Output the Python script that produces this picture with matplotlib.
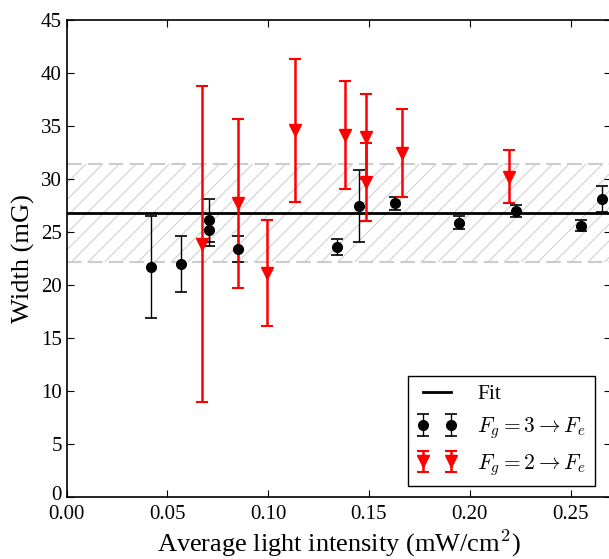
import numpy as np
import matplotlib
matplotlib.use('Agg')
import matplotlib.pyplot as plt
import matplotlib.transforms as mtransforms

# F_g = 3 -> F_e data (black)
x3 = [0.0418, 0.0565, 0.0706, 0.0706, 0.0848, 0.1342, 0.1451, 0.1628, 0.1947, 0.2229, 0.2550, 0.2657]
w3 = [21.7, 22.0, 26.1, 25.2, 23.4, 23.6, 27.5, 27.7, 25.9, 27.0, 25.6, 28.1]
e3 = [4.85, 2.65, 2.0, 1.5, 1.2, 0.75, 3.4, 0.6, 0.6, 0.55, 0.5, 1.25]

# F_g = 2 -> F_e data (red)
x2 = [0.0673, 0.0848, 0.0992, 0.1132, 0.1379, 0.1485, 0.1485, 0.1663, 0.2195]
w2 = [23.9, 27.7, 21.1, 34.6, 34.2, 34.0, 29.7, 32.5, 30.2]
e2 = [14.9, 7.95, 5.0, 6.75, 5.1, 4.0, 3.7, 4.15, 2.5]

fitValue = 26.8
bandLow = 22.2
bandHigh = 31.4

plt.rcParams['font.family'] = 'serif'
plt.rcParams['font.serif'] = ['Liberation Serif', 'DejaVu Serif']
plt.rcParams['mathtext.fontset'] = 'cm'
plt.rcParams['xtick.direction'] = 'in'
plt.rcParams['ytick.direction'] = 'in'
plt.rcParams['xtick.top'] = True
plt.rcParams['ytick.right'] = True
plt.rcParams['xtick.major.size'] = 5
plt.rcParams['ytick.major.size'] = 5
plt.rcParams['hatch.color'] = '0.82'
plt.rcParams['hatch.linewidth'] = 0.8

fig = plt.figure(figsize=(6.09, 5.59), dpi=100)
ax = fig.add_axes([0.1095, 0.111, 0.8935, 0.853])

xlim = (0, 0.27)
ax.fill_between(xlim, bandLow, bandHigh, facecolor='none', edgecolor='0.82', hatch='//', linewidth=0)
ax.axhline(bandLow, color='0.8', ls='--', lw=1.5, dashes=(7, 3))
ax.axhline(bandHigh, color='0.8', ls='--', lw=1.5, dashes=(7, 3))
ax.axhline(fitValue, color='k', lw=2, label='Fit')

ax.errorbar(x3, w3, yerr=e3, fmt='o', color='k', ms=7, capsize=4, elinewidth=1, capthick=1.2,
            label=r'$F_g = 3 \rightarrow F_e$')
ax.errorbar(x2, w2, yerr=e2, fmt='v', color='red', mec='red', ms=9, capsize=4, elinewidth=1.8, capthick=1.5,
            label=r'$F_g = 2 \rightarrow F_e$')

ax.set_xlim(*xlim)
ax.set_ylim(0, 45)
ax.set_xticks(np.arange(0, 0.26, 0.05))
ax.set_xticklabels(['%.2f' % t for t in np.arange(0, 0.26, 0.05)])
ax.set_yticks(np.arange(0, 46, 5))
ax.tick_params(labelsize=15)
ax.tick_params(axis='x', pad=6)
for s in ax.spines.values():
    s.set_linewidth(1.2)

# nudge the bottom "0" up a little so it clears "0.00"
zeroLabel = ax.get_yticklabels()[0]
zeroLabel.set_transform(zeroLabel.get_transform() + mtransforms.ScaledTranslation(0, 3 / 72, fig.dpi_scale_trans))

ax.set_xlabel(r'Average light intensity (mW/cm$^2$)', fontsize=19, labelpad=2)
ax.set_ylabel('Width (mG)', fontsize=19)

leg = ax.legend(loc='lower right', numpoints=2, fontsize=15.5, fancybox=False, framealpha=1,
                edgecolor='k', borderaxespad=0.5, handlelength=1.9, handletextpad=0.9,
                bbox_to_anchor=(0.99, 0.0))
leg.get_frame().set_linewidth(1.0)

fig.savefig('out.png', dpi=100)
